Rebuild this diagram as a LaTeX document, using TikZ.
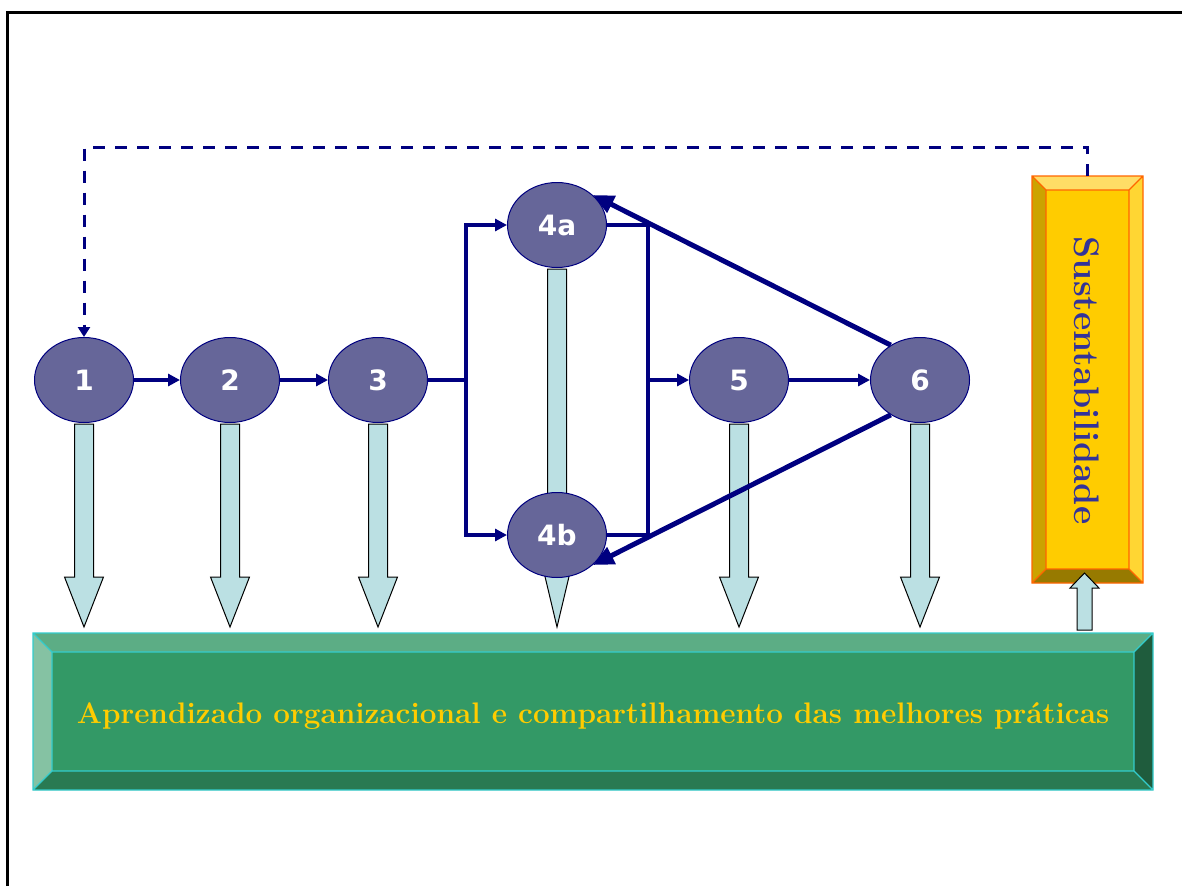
\documentclass[tikz,border=0pt]{standalone}
\usepackage{fontspec}
\usepackage{tikz}
\usetikzlibrary{shapes.geometric,arrows.meta,calc,backgrounds}
\newfontfamily\stagefont{DejaVu Sans}
\definecolor{navy}{HTML}{000080}
\definecolor{slate}{HTML}{666699}
\definecolor{pipeblue}{HTML}{BBE0E3}
\definecolor{gold}{HTML}{FFCC00}
\definecolor{goldtop}{HTML}{FFDD66}
\definecolor{goldleft}{HTML}{CCA300}
\definecolor{goldright}{HTML}{FFD633}
\definecolor{goldbottom}{HTML}{977A00}
\definecolor{goldedge}{HTML}{FF6600}
\definecolor{sustblue}{HTML}{333399}
\definecolor{leaf}{HTML}{339966}
\definecolor{leaftop}{HTML}{5CAD85}
\definecolor{leafleft}{HTML}{85C2A3}
\definecolor{leafright}{HTML}{1F5C3D}
\definecolor{leafbottom}{HTML}{297A52}
\definecolor{leafedge}{HTML}{33CCCC}
% bevelled box round a node: #1 node, #2 depth, #3-#6 top/left/right/bottom, #7 edge
\newcommand\bevelbox[7]{%
  \path (#1.north west) coordinate (#1-nw) ++(#2,#2) coordinate (#1-inw)
        (#1.north east) coordinate (#1-ne) ++(-#2,#2) coordinate (#1-ine)
        (#1.south east) coordinate (#1-se) ++(-#2,-#2) coordinate (#1-ise)
        (#1.south west) coordinate (#1-sw) ++(#2,-#2) coordinate (#1-isw);
  \fill[#3] (#1-nw) -- (#1-ne) -- (#1-ine) -- (#1-inw) -- cycle;
  \fill[#4] (#1-nw) -- (#1-inw) -- (#1-isw) -- (#1-sw) -- cycle;
  \fill[#5] (#1-ne) -- (#1-se) -- (#1-ise) -- (#1-ine) -- cycle;
  \fill[#6] (#1-sw) -- (#1-isw) -- (#1-ise) -- (#1-se) -- cycle;
  \draw[#7] (#1-nw) rectangle (#1-se) (#1-inw) rectangle (#1-ise)
    (#1-nw) -- (#1-inw) (#1-ne) -- (#1-ine) (#1-se) -- (#1-ise) (#1-sw) -- (#1-isw);}
% block arrow down from a node: #1 node, #2 shaft, #3 head
\newcommand\droparrow[3]{%
  \draw[pipe] (#1.south) ++(-9.5,1) -- ++(19,0) -- ++(0,#2) -- ++(10,0)
    -- ++(-19.5,#3) -- ++(-19.5,-#3) -- ++(10,0) -- cycle;}

\begin{document}
\begin{tikzpicture}[x=1pt,y=-1pt,
    stage/.style={ellipse, draw=navy, line width=1pt, fill=slate, minimum width=99pt,
      minimum height=85pt, inner sep=0pt, text=white,
      font={\stagefont\bfseries\fontsize{28}{28}\selectfont}},
    slab/.style={inner sep=0pt, outer sep=0pt},
    flow/.style={draw=navy, line width=3.5pt, -{Triangle[length=12pt,width=12pt]}},
    flowline/.style={draw=navy, line width=3.5pt},
    loopback/.style={draw=navy, line width=5pt, -{Triangle[length=21pt,width=18pt]}},
    feedback/.style={draw=navy, line width=3pt, dash pattern=on 12pt off 10pt,
      -{Triangle[length=10pt,width=12pt]}},
    pipe/.style={draw=black, line width=1pt, fill=pipeblue}]
  \useasboundingbox (0,0) rectangle (1182,886);
  \draw[line width=3pt] (7,886) -- (7,12.5) -- (1182,12.5);

  \node[stage] (n1) at (84,380) {1};
  \node[stage] (n2) at (230,380) {2};
  \node[stage] (n3) at (378,380) {3};
  \node[stage] (n4a) at (557,225) {4a};
  \node[stage] (n4b) at (557,535) {4b};
  \node[stage] (n5) at (739,380) {5};
  \node[stage] (n6) at (920,380) {6};
  \coordinate (split) at (466,380);
  \coordinate (merge) at (648,380);

  \begin{scope}[on background layer]
    \foreach \n in {n1,n2,n3,n5,n6}
      \droparrow{\n}{153}{50};
    \droparrow{n4a}{276}{82}
  \end{scope}

  \draw[flow] (n1) -- (n2);
  \draw[flow] (n2) -- (n3);
  \draw[flowline] (n3) -- (split);
  \draw[flow] (split) |- (n4a);
  \draw[flow] (split) |- (n4b);
  \draw[flowline] (n4a) -| (merge);
  \draw[flowline] (n4b) -| (merge);
  \draw[flow] (merge) -- (n5);
  \draw[flow] (n5) -- (n6);
  \draw[loopback] (n6.130) -- (n4a.40);
  \draw[loopback] (n6.-130) -- (n4b.-40);

  % sustainability bar
  \node[slab, fill=gold, minimum width=111pt, minimum height=407pt] (sust) at (1087.5,379.5) {};
  \bevelbox{sust}{14}{goldtop}{goldleft}{goldright}{goldbottom}{goldedge, line width=1.2pt}
  \node[rotate=-90, text=sustblue, font={\bfseries\fontsize{35.5}{37}\selectfont}]
    (sustlabel) at ($(sust.center)+(-1,1)$) {Sustentabilidade};
  \draw[feedback] (sust.north) -- ++(0,-29) -| (n1);

  % learning base
  \node[slab, fill=leaf, minimum width=1120pt, minimum height=157pt] (learn) at (593,711.5) {};
  \bevelbox{learn}{19}{leaftop}{leafleft}{leafright}{leafbottom}{leafedge, line width=1.2pt}
  \node[anchor=base, text=gold, font={\bfseries\fontsize{29.7}{31}\selectfont}]
    (learnlabel) at ($(learn.center)+(0,11.5)$) {Aprendizado organizacional e compartilhamento das melhores práticas};

  \coordinate (liftbase) at (1084.5,630);
  \draw[pipe] (liftbase) ++(-7.5,0) -- ++(0,-42) -- ++(-7,0) -- ++(14.5,-15)
    -- ++(14.5,15) -- ++(-7,0) -- ++(0,42) -- cycle;
\end{tikzpicture}
\end{document}
